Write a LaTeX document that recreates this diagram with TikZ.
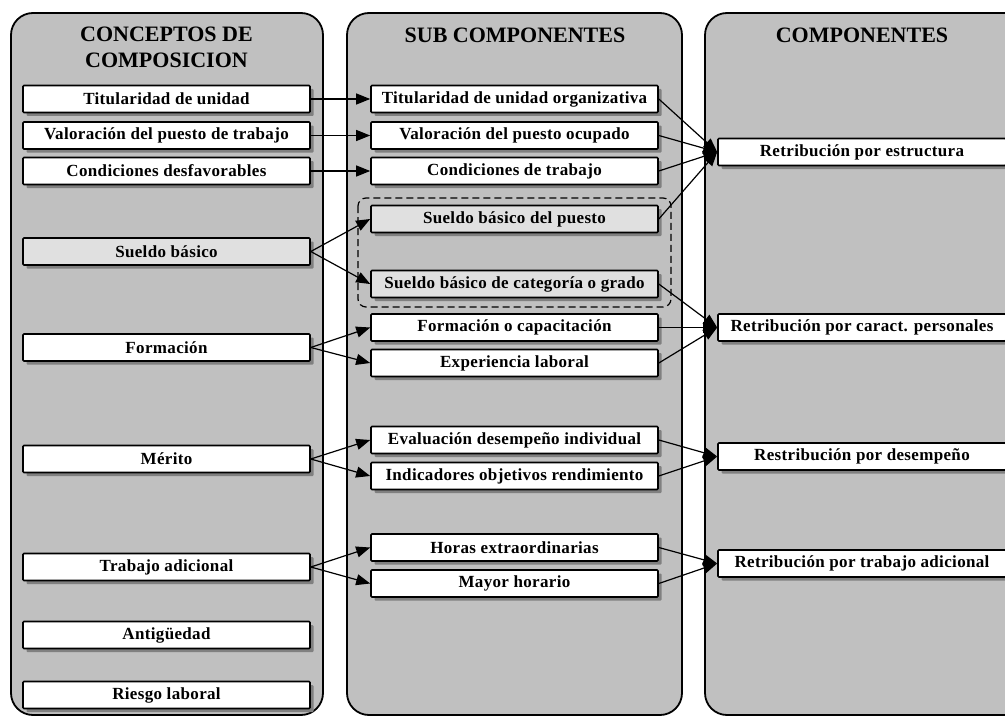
\documentclass[tikz,border=0pt]{standalone}
\usepackage{fontspec}
\setmainfont{Liberation Serif}
\newfontfamily\boxfam{Liberation Serif}[LetterSpace=2]
\usetikzlibrary{arrows.meta,shadows}
\definecolor{panelgray}{HTML}{C0C0C0}
\definecolor{lightbox}{HTML}{E0E0E0}
\definecolor{shadowgray}{HTML}{808080}
\begin{document}
\begin{tikzpicture}[x=1pt,y=-1pt,
  panel/.style={draw=black,line width=1.8pt,fill=panelgray,rounded corners=22pt},
  boxn/.style={draw=black,line width=1.6pt,fill=white,minimum width=287pt,minimum height=27pt,
    inner sep=0pt,font=\boxfam\bfseries\fontsize{17}{20}\selectfont,rounded corners=1pt,
    drop shadow={shadow xshift=3.5pt,shadow yshift=-3.5pt,fill=shadowgray,opacity=1}},
  graybox/.style={boxn,fill=lightbox},
  rbox/.style={boxn,minimum width=288pt},
  head/.style={anchor=base,font=\bfseries\fontsize{22}{25}\selectfont,inner sep=0pt},
  arr/.style={-{Triangle[length=14pt,width=11pt]},line width=1.2pt},
  dashbox/.style={draw=black,line width=1.2pt,dash pattern=on 7pt off 4pt,rounded corners=8pt}
]
\useasboundingbox (0,0) rectangle (1005,717);
\clip (0,0) rectangle (1005,717);
\fill[white] (0,0) rectangle (1005,717);
% panels
\draw[panel] (11,13) rectangle (323,715);
\draw[panel] (347,13) rectangle (682,715);
\draw[panel] (705,13) rectangle (1060,715);
% headers
\node[head] (h1a) at (166.5,42) {CONCEPTOS DE};
\node[head] (h1b) at (166.5,67) {COMPOSICION};
\node[head] (h2) at (515,43) {SUB COMPONENTES};
\node[head] (h3) at (862,43) {COMPONENTES};
% dashed group
\draw[dashbox] (358,198) rectangle (671,307);
% left boxes
\node[boxn] (l1) at (166.5,99) {Titularidad de unidad};
\node[boxn] (l2) at (166.5,135.5) {Valoración del puesto de trabajo};
\node[boxn] (l3) at (166.5,171) {Condiciones desfavorables};
\node[graybox] (l4) at (166.5,251.5) {Sueldo básico};
\node[boxn] (l5) at (166.5,347.5) {Formación};
\node[boxn] (l6) at (166.5,459) {Mérito};
\node[boxn] (l7) at (166.5,567) {Trabajo adicional};
\node[boxn] (l8) at (166.5,635) {Antigüedad};
\node[boxn] (l9) at (166.5,695) {Riesgo laboral};
% middle boxes
\node[boxn] (m1) at (514.5,99) {Titularidad de unidad organizativa};
\node[boxn] (m2) at (514.5,135.5) {Valoración del puesto ocupado};
\node[boxn] (m3) at (514.5,171) {Condiciones de trabajo};
\node[graybox] (m4) at (514.5,219) {Sueldo básico del puesto};
\node[graybox] (m5) at (514.5,284) {Sueldo básico de categoría o grado};
\node[boxn] (m6) at (514.5,327.5) {Formación o capacitación};
\node[boxn] (m7) at (514.5,363) {Experiencia laboral};
\node[boxn] (m8) at (514.5,440) {Evaluación desempeño individual};
\node[boxn] (m9) at (514.5,476) {Indicadores objetivos rendimiento};
\node[boxn] (m10) at (514.5,547.5) {Horas extraordinarias};
\node[boxn] (m11) at (514.5,583.5) {Mayor horario};
% right boxes
\node[rbox] (r1) at (862,152) {Retribución por estructura};
\node[rbox] (r2) at (862,327.5) {Retribución por caract. personales};
\node[rbox] (r3) at (862,456.5) {Restribución por desempeño};
\node[rbox] (r4) at (862,563.5) {Retribución por trabajo adicional};
% left -> middle
\draw[arr] (l1.east) -- (m1.west);
\draw[arr] (l2.east) -- (m2.west);
\draw[arr] (l3.east) -- (m3.west);
\draw[arr] (l4.east) -- (m4.west);
\draw[arr] (l4.east) -- (m5.west);
\draw[arr] (l5.east) -- (m6.west);
\draw[arr] (l5.east) -- (m7.west);
\draw[arr] (l6.east) -- (m8.west);
\draw[arr] (l6.east) -- (m9.west);
\draw[arr] (l7.east) -- (m10.west);
\draw[arr] (l7.east) -- (m11.west);
% middle -> right
\draw[arr] (m1.east) -- (r1.west);
\draw[arr] (m2.east) -- (r1.west);
\draw[arr] (m3.east) -- (r1.west);
\draw[arr] (m4.east) -- (r1.west);
\draw[arr] (m5.east) -- (r2.west);
\draw[arr] (m6.east) -- (r2.west);
\draw[arr] (m7.east) -- (r2.west);
\draw[arr] (m8.east) -- (r3.west);
\draw[arr] (m9.east) -- (r3.west);
\draw[arr] (m10.east) -- (r4.west);
\draw[arr] (m11.east) -- (r4.west);
\end{tikzpicture}
\end{document}
